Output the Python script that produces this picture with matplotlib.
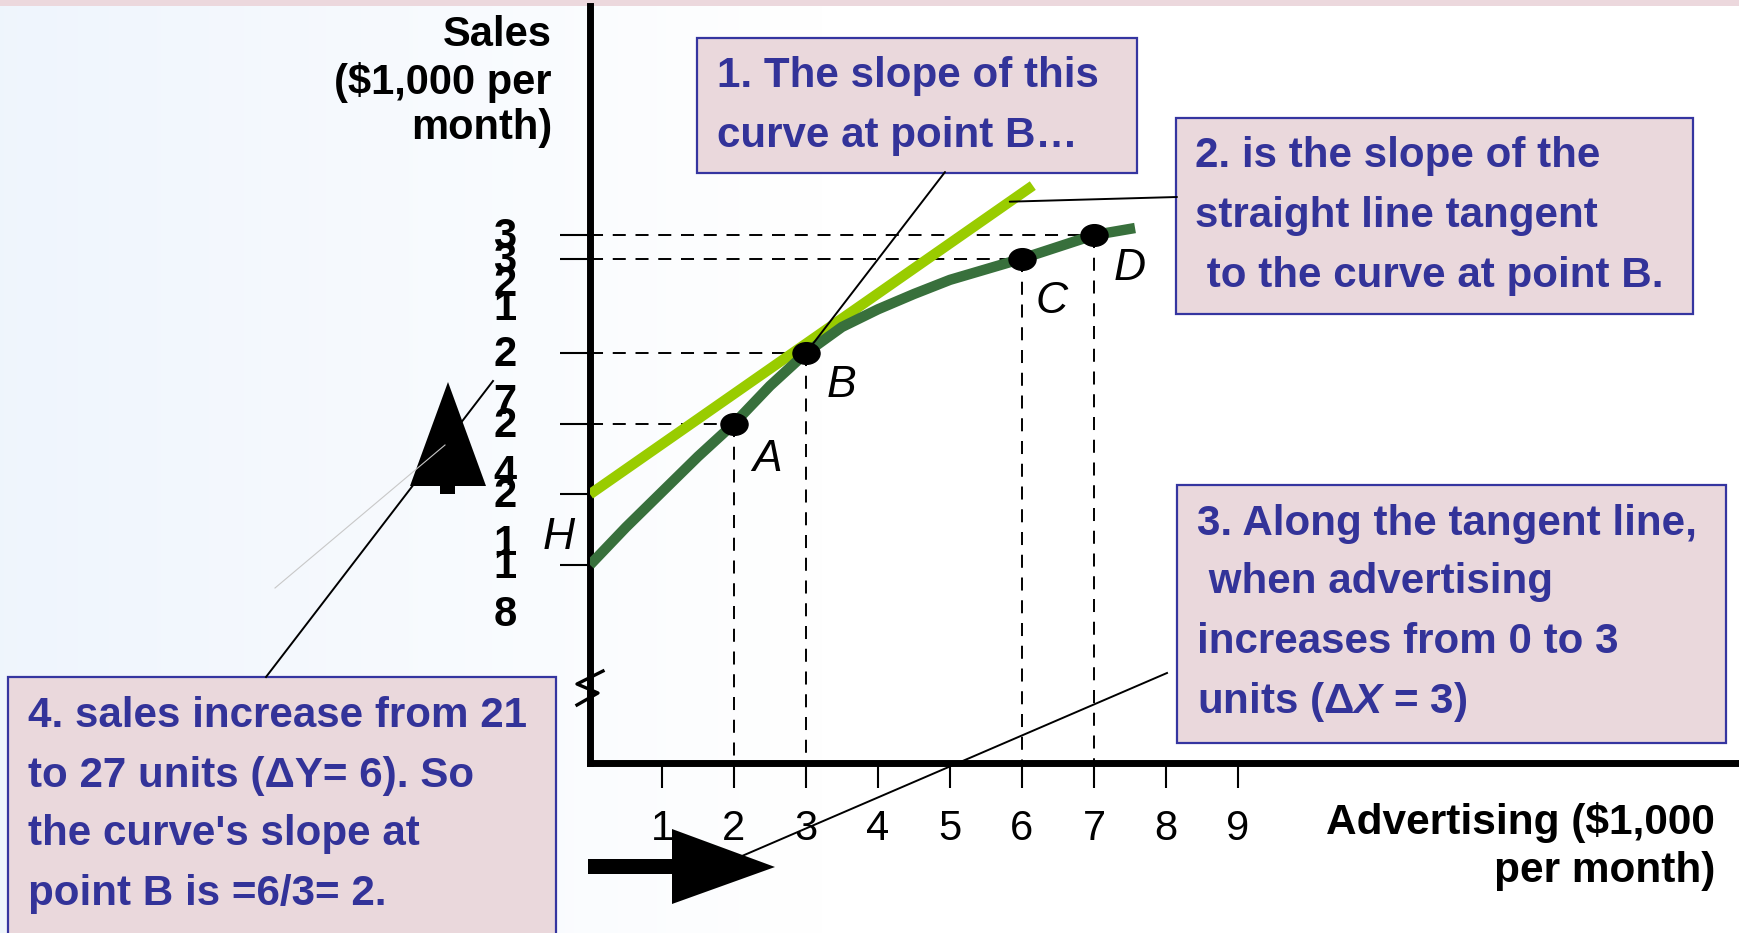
import numpy as np
import matplotlib
matplotlib.use("Agg")
import matplotlib.pyplot as plt
from matplotlib.patches import Rectangle, Polygon
from matplotlib.path import Path
from matplotlib.transforms import Affine2D

plt.rcParams['font.family'] = ['Liberation Sans', 'DejaVu Sans']
plt.rcParams['mathtext.fontset'] = 'custom'
plt.rcParams['mathtext.it'] = 'Liberation Sans:italic:bold'
plt.rcParams['mathtext.rm'] = 'Liberation Sans:bold'

# sales curve (advertising -> sales)
curve_x = [0, 0.5, 1, 1.5, 2, 2.5, 3, 3.5, 4, 4.5, 5, 5.5, 6, 6.5, 7, 7.57]
curve_y = [18, 19.6, 21.1, 22.6, 24, 25.6, 27, 28.1, 28.85, 29.5, 30.1, 30.55,
           31, 31.5, 32, 32.3]

# straight line tangent at B
tangent_x = [0, 6.15]
tangent_y = [21, 34.1]

point_names = ['A', 'B', 'C', 'D']
point_x = [2, 3, 6, 7]
point_y = [24, 27, 31, 32]

y_tick_values = [18, 21, 24, 27, 31, 32]
y_tick_labels = ['18', '21', '24', '27', '31', '32']
x_tick_values = [1, 2, 3, 4, 5, 6, 7, 8, 9]

box1_lines = ["1. The slope of this", "curve at point B\u2026"]
box2_lines = ["2. is the slope of the", "straight line tangent", " to the curve at point B."]
box3_lines = ["3. Along the tangent line,", " when advertising", "increases from 0 to 3",
              "units (\u0394$X$ = 3)"]
box4_lines = ["4. sales increase from 21", "to 27 units (\u0394Y= 6). So",
              "the curve's slope at", "point B is =6/3= 2."]

W, H = 1740, 933
TXT = '#333399'
BOXFILL = '#ead8dc'
BOXEDGE = '#3535a0'

fig = plt.figure(figsize=(W / 100, H / 100), dpi=100)

# background: faint blue on the left fading to white, pink strip on top
bg = fig.add_axes([0, 0, 1, 1], zorder=-2)
grad = np.linspace(0, 1, 400)
grad = np.clip(grad * W / 820, 0, 1)
left = np.array([0.937, 0.961, 0.992])
img = left[None, :] * (1 - grad[:, None]) + np.ones(3)[None, :] * grad[:, None]
bg.imshow(img[None, :, :], extent=(0, W, H, 0), aspect='auto')
bg.add_patch(Rectangle((0, 0), W, 6, color='#ecd8dd', lw=0))
bg.set_xlim(0, W)
bg.set_ylim(H, 0)
bg.axis('off')

# chart axes: x=0 at 590px, 72px per unit; sales 23.56px per unit
ax = fig.add_axes([590 / W, (H - 763) / H, (W - 590) / W, (763 - 6) / H])
ax.set_facecolor('none')
ax.set_xlim(0, (W - 590) / 72.0)
ax.set_ylim((989 - 763) / 23.56, (989 - 6) / 23.56)
for s in ['top', 'right']:
    ax.spines[s].set_visible(False)
ax.spines['left'].set_linewidth(5)
ax.spines['bottom'].set_linewidth(5)

ax.set_xticks(x_tick_values)
ax.tick_params(axis='x', direction='out', length=18, width=1.5, pad=15, labelsize=30)
ax.set_yticks(y_tick_values)
ax.set_yticklabels([])
ax.tick_params(axis='y', direction='out', length=21.6, width=1.5)

# y labels were typeset in a box too narrow, so the digits stack
for v, lab in zip(y_tick_values, y_tick_labels):
    for i, ch in enumerate(lab):
        ax.annotate(ch, xy=(0, v), xycoords=('axes fraction', 'data'),
                    xytext=(-85, -13 - 48 * i), textcoords='offset pixels',
                    ha='center', va='baseline', fontsize=30, fontweight='bold')

# dashed guides from each point to both axes
ybot = ax.get_ylim()[0]
for px, py in zip(point_x, point_y):
    ax.plot([0, px], [py, py], color='black', lw=1.4, ls=(0, (6.7, 5)), zorder=2)
    ax.plot([px, px], [py, ybot], color='black', lw=1.4, ls=(0, (6.7, 5)), zorder=2)

ax.plot(tangent_x, tangent_y, color='#99cc00', lw=7.5, solid_capstyle='butt', zorder=3)
ax.plot(curve_x, curve_y, color='#38703c', lw=7.5, solid_capstyle='butt',
        solid_joinstyle='round', zorder=4)

ell = Path.unit_circle().transformed(Affine2D().scale(1, 0.8))
ax.plot(point_x, point_y, ls='none', marker=ell, ms=19.5, color='black', zorder=6)

offsets = {'A': (33, -47), 'B': (35, -44), 'C': (30, -54), 'D': (36, -45)}
for name, px, py in zip(point_names, point_x, point_y):
    ax.annotate(name, xy=(px, py), xytext=offsets[name], textcoords='offset pixels',
                ha='center', va='baseline', fontsize=32, fontstyle='italic')
ax.annotate('H', xy=(0, curve_y[0]), xytext=(-31, 16), textcoords='offset pixels',
            ha='center', va='baseline', fontsize=32, fontstyle='italic')

# overlay in pixel coordinates for the notes, arrows and labels
ov = fig.add_axes([0, 0, 1, 1], zorder=5)
ov.set_xlim(0, W)
ov.set_ylim(H, 0)
ov.axis('off')

for i, t in enumerate(["Sales", "($1,000 per", "month)"]):
    ov.text(552, [46, 94, 139][i], t, ha='right', va='baseline', fontsize=30,
            fontweight='bold', parse_math=False)
for i, t in enumerate(["Advertising ($1,000", "per month)"]):
    ov.text(1715, [834, 882][i], t, ha='right', va='baseline', fontsize=30.5,
            fontweight='bold', parse_math=False)

# axis break mark
ov.plot([603, 577, 598, 577], [671, 684, 693, 705], color='black', lw=2.4)

# connector lines
conn = dict(arrowstyle='-', lw=1.4, color='black', shrinkA=0, shrinkB=0)
ov.annotate('', xy=(point_x[1], point_y[1]), xycoords=ax.transData,
            xytext=(945, 172), textcoords='data', arrowprops=conn)
tx = 5.83
ov.annotate('', xy=(tx, np.interp(tx, tangent_x, tangent_y)), xycoords=ax.transData,
            xytext=(1177, 197), textcoords='data', arrowprops=conn)
ov.plot([1167, 742], [673, 856], color='black', lw=1.4)
ov.plot([266, 493], [677, 381], color='black', lw=1.4)
ov.plot([275, 445], [588, 445], color='#c8c8c8', lw=0.8)

# big black arrows
ov.add_patch(Polygon([(448, 382), (410, 486), (486, 486)], closed=True, color='black', lw=0))
ov.add_patch(Rectangle((440, 484), 15, 10, color='black', lw=0))
ov.add_patch(Rectangle((588, 859), 86, 15, color='black', lw=0))
ov.add_patch(Polygon([(672, 829), (672, 904), (775, 867)], closed=True, color='black', lw=0))


def note(x0, y0, x1, y1, tx, baselines, lines):
    ov.add_patch(Rectangle((x0, y0), x1 - x0, y1 - y0, facecolor=BOXFILL,
                           edgecolor=BOXEDGE, lw=1.6))
    for b, t in zip(baselines, lines):
        ov.text(tx, b, t, ha='left', va='baseline', fontsize=30.3,
                fontweight='bold', color=TXT)


note(697, 38, 1137, 173, 717, [87, 147], box1_lines)
note(1176, 118, 1693, 314, 1195, [167, 227, 287], box2_lines)
note(1177, 485, 1726, 743, 1197, [535, 593, 653, 713], box3_lines)
note(8, 677, 556, 945, 28, [727, 787, 845, 905], box4_lines)

fig.savefig('out.png', dpi=100)
